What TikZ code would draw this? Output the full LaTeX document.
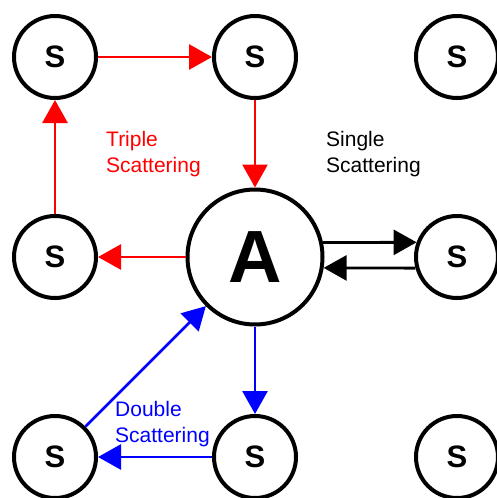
\documentclass[tikz,border=0pt]{standalone}
\usepackage{fontspec}
\setmainfont{Liberation Sans}
\usetikzlibrary{arrows.meta}
\begin{document}
\begin{tikzpicture}[x=1pt,y=-1pt,
  scat/.style={circle,draw,line width=4pt,minimum size=82pt,inner sep=0pt,
    font=\fontsize{31}{31}\selectfont\bfseries},
  atom/.style={circle,draw,line width=4pt,minimum size=135pt,inner sep=0pt,
    font=\fontsize{74}{74}\selectfont\bfseries},
  path/.style={line width=2.8pt,-{Triangle[length=23pt,width=25pt]}},
  label/.style={anchor=base west,align=left,inner sep=0pt,
    font=\fontsize{21}{26}\selectfont}]
\useasboundingbox (0,0) rectangle (496,498);
% scatterers on a grid around the central atom
\node[scat] (s11) at (55,57) {S};
\node[scat] (s12) at (255,57) {S};
\node[scat] (s13) at (457,57) {S};
\node[scat] (s21) at (55,257) {S};
\node[atom] (a)   at (255,257) {A};
\node[scat] (s23) at (457,257) {S};
\node[scat] (s31) at (55,457) {S};
\node[scat] (s32) at (255,457) {S};
\node[scat] (s33) at (457,457) {S};
% single scattering
\draw[path] (a.12) -- (s23.160);
\draw[path] (s23.195) -- (a.-9);
% triple scattering
\draw[path,red] (a) -- (s21);
\draw[path,red] (s21) -- (s11);
\draw[path,red] (s11) -- (s12);
\draw[path,red] (s12) -- (a);
% double scattering
\draw[path,blue] (a) -- (s32);
\draw[path,blue] (s32) -- (s31);
\draw[path,blue] (s31) -- (a);
% labels
\node[label,red] (lt) at (106,172) {Triple\\Scattering};
\node[label] (ls) at (326,172) {Single\\Scattering};
\node[label,blue] (ld) at (115,442) {Double\\Scattering};
\end{tikzpicture}
\end{document}
